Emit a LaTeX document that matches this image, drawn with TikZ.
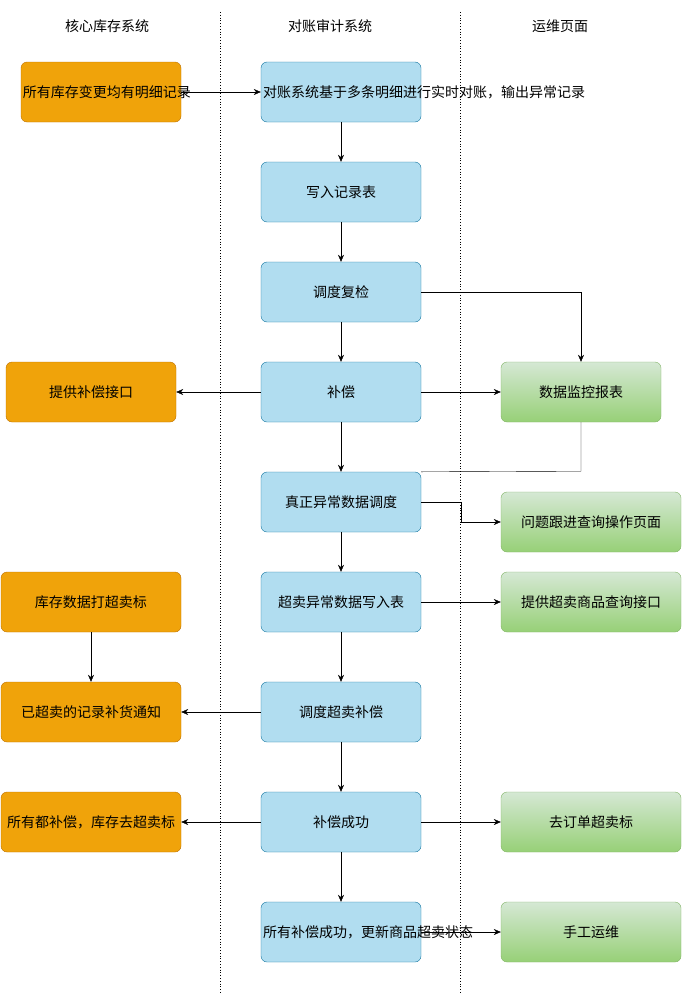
\documentclass[tikz,border=0pt]{standalone}
\usepackage{fontspec}
\setmainfont{Noto Sans CJK SC}
\usetikzlibrary{arrows.meta, positioning, calc}

\begin{document}
\begin{tikzpicture}[x=1pt,y=-1pt,
    font=\fontsize{14}{17}\selectfont,
    box/.style={draw, rounded corners=6pt, minimum height=60pt, align=center, inner sep=2pt},
    mid/.style={box, fill=blue!10!cyan!25, fill={rgb,255:red,177;green,221;blue,240}, draw={rgb,255:red,16;green,115;blue,158}, minimum width=160pt, text width=156pt},
    core/.style={box, fill={rgb,255:red,240;green,163;blue,10}, draw={rgb,255:red,189;green,112;blue,0}, text width=176pt},
    ops/.style={box, top color={rgb,255:red,213;green,232;blue,212}, bottom color={rgb,255:red,151;green,208;blue,119}, draw={rgb,255:red,130;green,179;blue,102}, text width=176pt},
    arr/.style={-{Stealth[length=7pt,width=6pt]}, black}]
\useasboundingbox (0,0) rectangle (681,993);
% lanes
\draw[dotted, thick] (220,12) -- (220,993);
\draw[dotted, thick] (460,12) -- (460,993);
\node (h1) at (107,26) {核心库存系统};
\node (h2) at (330,26) {对账审计系统};
\node (h3) at (560,26) {运维页面};
% middle lane
\node[mid] (check) at (341,92) {对账系统基于多条明细进行实时对账，输出异常记录};
\node[mid] (write) at (341,192) {写入记录表};
\node[mid] (recheck) at (341,292) {调度复检};
\node[mid] (comp) at (341,392) {补偿};
\node[mid] (real) at (341,502) {真正异常数据调度};
\node[mid] (overw) at (341,602) {超卖异常数据写入表};
\node[mid] (overc) at (341,712) {调度超卖补偿};
\node[mid] (succ) at (341,822) {补偿成功};
\node[mid] (all) at (341,932) {所有补偿成功，更新商品超卖状态};
% core lane
\node[core, text width=156pt, minimum width=160pt] (detail) at (101,92) {所有库存变更均有明细记录};
\node[core, text width=166pt, minimum width=170pt] (api) at (91,392) {提供补偿接口};
\node[core, minimum width=180pt] (mark) at (91,602) {库存数据打超卖标};
\node[core, minimum width=180pt] (notify) at (91,712) {已超卖的记录补货通知};
\node[core, minimum width=180pt] (unmark) at (91,822) {所有都补偿，库存去超卖标};
% ops lane
\node[ops, text width=156pt, minimum width=160pt] (report) at (581,392) {数据监控报表};
\node[ops, minimum width=180pt] (page) at (591,522) {问题跟进查询操作页面};
\node[ops, minimum width=180pt] (query) at (591,602) {提供超卖商品查询接口};
\node[ops, minimum width=180pt] (order) at (591,822) {去订单超卖标};
\node[ops, minimum width=180pt] (manual) at (591,932) {手工运维};
% connectors
\draw[arr] (detail) -- (check);
\foreach \a/\b in {check/write, write/recheck, recheck/comp, comp/real, real/overw, overw/overc, overc/succ, succ/all}
  \draw[arr] (\a) -- (\b);
\draw[arr] (recheck.east) -| (report.north);
\draw[arr] (comp) -- (api);
\draw[arr] (comp) -- (report);
\draw (report.south) -- ++(0,49) -- (real.north east);
\draw[arr] (real.east) -- (461,502) |- (page.west);
\draw[arr] (overw) -- (query);
\draw[arr] (mark) -- (notify);
\draw[arr] (overc) -- (notify);
\draw[arr] (succ) -- (unmark);
\draw[arr] (succ) -- (order);
\draw[arr] (all) -- (manual);
\end{tikzpicture}
\end{document}
